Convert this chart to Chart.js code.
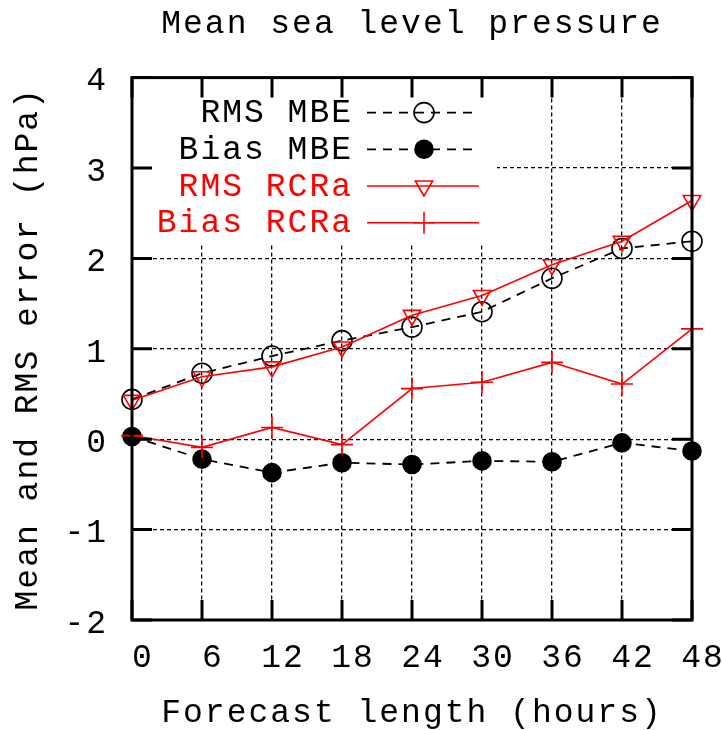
<!DOCTYPE html>
<html>
<head>
<meta charset="utf-8">
<script src="https://cdn.jsdelivr.net/npm/chart.js@4.4.1/dist/chart.umd.min.js"></script>
<style>
  body { margin: 0; background: #fff; }
  #wrap { width: 722px; height: 730px; }
</style>
</head>
<body>
<div id="wrap"><canvas id="grafico" width="722" height="730"></canvas></div>
<script>
// datos
const horas = [0, 6, 12, 18, 24, 30, 36, 42, 48];
const rmsMBE = [0.44, 0.73, 0.92, 1.09, 1.24, 1.41, 1.78, 2.11, 2.19];
const biasMBE = [0.03, -0.22, -0.37, -0.26, -0.28, -0.24, -0.25, -0.04, -0.13];
const rmsRCRa = [0.43, 0.69, 0.80, 1.02, 1.37, 1.59, 1.93, 2.19, 2.64];
const biasRCRa = [0.04, -0.09, 0.13, -0.06, 0.56, 0.63, 0.85, 0.61, 1.22];
const nombres = ["RMS MBE", "Bias MBE", "RMS RCRa", "Bias RCRa"];

const FUENTE = "'Liberation Mono', 'DejaVu Sans Mono', monospace";
const ROJO = "#ff0000";

const pares = ys => horas.map((h, i) => ({ x: h, y: ys[i] }));

// letras algo mas separadas, como el Courier del original
const espaciado = {
  id: "espaciado",
  beforeUpdate(chart) { chart.ctx.letterSpacing = "2px"; },
  beforeDraw(chart) { chart.ctx.letterSpacing = "2px"; }
};

// leyenda dentro del grafico, con fondo blanco opaco
const leyenda = {
  id: "leyenda",
  beforeDatasetsDraw(chart) {
    const { ctx, chartArea } = chart;
    ctx.save();
    ctx.fillStyle = "#fff";
    ctx.fillRect(chartArea.left, chartArea.top, 365, 167);
    ctx.font = `33px ${FUENTE}`;
    ctx.textAlign = "right";
    ctx.textBaseline = "middle";
    chart.data.datasets.forEach((ds, i) => {
      const y = chartArea.top + 35 + i * 36.7;
      ctx.fillStyle = ds.borderColor;
      ctx.fillText(ds.label, chartArea.left + 221, y + 1);
      ctx.strokeStyle = ds.borderColor;
      ctx.lineWidth = ds.borderWidth;
      ctx.setLineDash(ds.borderDash || []);
      ctx.beginPath();
      ctx.moveTo(chartArea.left + 235, y);
      ctx.lineTo(chartArea.left + 347, y);
      ctx.stroke();
      ctx.setLineDash([]);
      ctx.fillStyle = ds.pointBackgroundColor;
      ctx.strokeStyle = ds.pointBorderColor;
      ctx.lineWidth = ds.pointBorderWidth;
      Chart.helpers.drawPoint(ctx, {
        pointStyle: ds.pointStyle,
        rotation: ds.pointRotation || 0,
        radius: ds.pointRadius,
        borderWidth: ds.pointBorderWidth
      }, chartArea.left + 292, y);
    });
    ctx.restore();
  }
};

// marco y marcas hacia dentro, estilo gnuplot
const marco = {
  id: "marco",
  afterDraw(chart) {
    const { ctx, chartArea: a, scales } = chart;
    ctx.save();
    ctx.strokeStyle = "#000";
    ctx.lineWidth = 3;
    ctx.beginPath();
    scales.x.ticks.forEach(t => {
      const px = scales.x.getPixelForValue(t.value);
      ctx.moveTo(px, a.top); ctx.lineTo(px, a.top + 20);
      ctx.moveTo(px, a.bottom); ctx.lineTo(px, a.bottom - 20);
    });
    scales.y.ticks.forEach(t => {
      const py = scales.y.getPixelForValue(t.value);
      ctx.moveTo(a.left, py); ctx.lineTo(a.left + 20, py);
      ctx.moveTo(a.right, py); ctx.lineTo(a.right - 20, py);
    });
    ctx.stroke();
    ctx.strokeRect(a.left, a.top, a.right - a.left, a.bottom - a.top);
    ctx.restore();
  }
};

new Chart(document.getElementById("grafico"), {
  type: "line",
  data: {
    datasets: [
      {
        label: nombres[0], data: pares(rmsMBE), order: 1,
        borderColor: "#000", borderWidth: 1.8, borderDash: [9, 7],
        pointStyle: "circle", pointRadius: 10, pointBorderWidth: 1.6,
        pointBackgroundColor: "rgba(0,0,0,0)", pointBorderColor: "#000"
      },
      {
        label: nombres[1], data: pares(biasMBE), order: 1,
        borderColor: "#000", borderWidth: 1.8, borderDash: [9, 7],
        pointStyle: "circle", pointRadius: 9, pointBorderWidth: 1.6,
        pointBackgroundColor: "#000", pointBorderColor: "#000"
      },
      {
        label: nombres[2], data: pares(rmsRCRa), order: 0,
        borderColor: ROJO, borderWidth: 1.6,
        pointStyle: "triangle", pointRotation: 180, pointRadius: 10, pointBorderWidth: 1.6,
        pointBackgroundColor: "rgba(0,0,0,0)", pointBorderColor: ROJO
      },
      {
        label: nombres[3], data: pares(biasRCRa), order: 0,
        borderColor: ROJO, borderWidth: 1.6,
        pointStyle: "cross", pointRadius: 11, pointBorderWidth: 1.6,
        pointBackgroundColor: "rgba(0,0,0,0)", pointBorderColor: ROJO
      }
    ].map(d => ({ ...d, fill: false, tension: 0, clip: false }))
  },
  options: {
    responsive: false,
    animation: false,
    events: [],
    layout: { padding: { top: 0, right: 30, left: 0, bottom: 0 } },
    plugins: {
      legend: { display: false },
      tooltip: { enabled: false },
      title: {
        display: true,
        text: "Mean sea level pressure",
        color: "#000",
        fullSize: false,
        font: { family: FUENTE, size: 33, weight: "normal" },
        padding: { top: 4, bottom: 34 }
      }
    },
    scales: {
      x: {
        type: "linear",
        min: 0,
        max: 48,
        afterFit: s => { s.height = 110; s.paddingLeft = 0; s.paddingRight = 0; },
        border: { display: false, dash: [4, 3] },
        grid: { color: "#000", lineWidth: 1.3, drawTicks: false },
        ticks: {
          stepSize: 6,
          color: "#000",
          padding: 18,
          labelOffset: 11,
          maxRotation: 0,
          font: { family: FUENTE, size: 33 }
        },
        title: {
          display: true,
          text: "Forecast length (hours)",
          color: "#000",
          font: { family: FUENTE, size: 33 },
          padding: { top: 0, bottom: -3 }
        }
      },
      y: {
        min: -2,
        max: 4,
        afterFit: s => { s.width = 132; s.paddingTop = 0; s.paddingBottom = 0; },
        border: { display: false, dash: [4, 3] },
        grid: { color: "#000", lineWidth: 1.3, drawTicks: false },
        ticks: {
          stepSize: 1,
          color: "#000",
          padding: 24,
          labelOffset: 4,
          font: { family: FUENTE, size: 33 }
        },
        title: {
          display: true,
          text: "Mean and RMS error (hPa)",
          color: "#000",
          font: { family: FUENTE, size: 33 },
          padding: { top: 8, bottom: 0 }
        }
      }
    }
  },
  plugins: [espaciado, leyenda, marco]
});
</script>
</body>
</html>
